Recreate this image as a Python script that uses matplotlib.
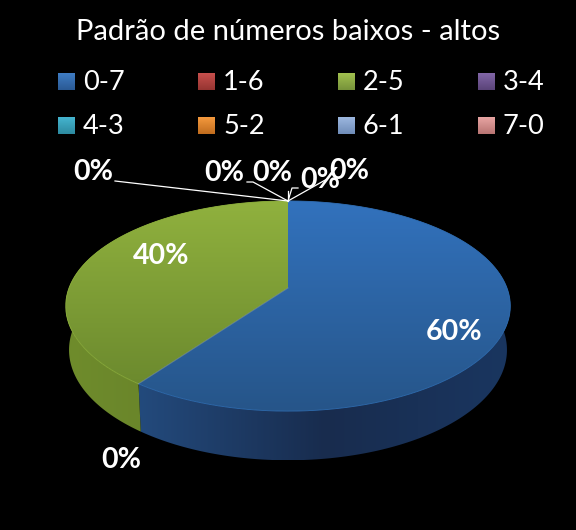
import numpy as np
import matplotlib
matplotlib.use("Agg")
import matplotlib.pyplot as plt
from matplotlib.colors import LinearSegmentedColormap
from matplotlib.patches import Polygon

plt.rcParams["font.family"] = ["Lato", "DejaVu Sans"]

TITLE = "Padrão de números baixos - altos"
categories = ["0-7", "1-6", "2-5", "3-4", "4-3", "5-2", "6-1", "7-0"]
values = [60, 0, 40, 0, 0, 0, 0, 0]
legend_top = ["#3f7cc4", "#c8504d", "#a2c14f", "#8266a8", "#45b5d0", "#f59a3e", "#9db8e0", "#e8a5a3"]
legend_low = ["#2a5a94", "#953431", "#76923a", "#5a4478", "#2d8aa0", "#c06c1e", "#6f8cb8", "#b87472"]

# couleurs du dessus et du flanc de chaque part
top_colors = {0: ("#3272bd", "#265589"), 2: ("#90b13e", "#6c8a2e")}
side_colors = {0: ("#234a7c", "#182c4e", "#1a3660"), 2: ("#6f8c2c", "#68832a", "#5e7a26")}
rim_colors = {0: "#2f6cb0", 2: "#8cae3c"}

# place des etiquettes, dans l'ordre des categories
label_xy = [(454, 332), (121, 460), (161, 256), (93, 172), (224, 173), (272, 173), (320, 180), (349, 171)]
leaders = [
    [(115, 181), (288, 201)],
    [(247, 182), (253, 182), (288, 201)],
    [(298, 188), (292, 188), (288, 201)],
    [(288, 191), (288, 201)],
    [(327, 179), (288, 201)],
]

CX, CY = 288, 288
RX, RY, K = 219, 102, 0.1716
DEPTH = 43


def rim(theta, bottom=False):
    """Cercle vu en perspective : theta en radians, sens horaire depuis le haut."""
    u, v = np.sin(theta), -np.cos(theta)
    d = 1 - K * v
    x, y = RX * u / d, RY * v / d
    if bottom:
        return CX + 0.985 * x, CY + 1.05 * y + DEPTH
    return CX + x, CY + y


def gradient(ax, patch, stops, vertical=True):
    xy = patch.get_xy()
    x0, x1, y0, y1 = xy[:, 0].min(), xy[:, 0].max(), xy[:, 1].min(), xy[:, 1].max()
    cmap = LinearSegmentedColormap.from_list("g", stops)
    ramp = np.linspace(0, 1, 256)
    ramp = ramp[:, None] if vertical else ramp[None, :]
    im = ax.imshow(ramp, cmap=cmap, extent=(x0, x1, y1, y0), aspect="auto", zorder=patch.get_zorder())
    ax.add_patch(patch)
    patch.set_visible(False)
    im.set_clip_path(patch)


fig = plt.figure(figsize=(5.76, 5.30), dpi=100, facecolor="black")
ax = fig.add_axes([0, 0, 1, 1])
ax.set_facecolor("black")

ax.text(288, 32, TITLE, color="white", fontsize=21, ha="center", va="center")

# legende (4 colonnes, remplie par lignes)
for i, name in enumerate(categories):
    col, row = i % 4, i // 4
    x, y = 58 + 140 * col, 73 + 44 * row
    box = Polygon([(x, y), (x + 17, y), (x + 17, y + 17), (x, y + 17)], zorder=3)
    gradient(ax, box, [legend_top[i], legend_low[i]])
    ax.text(x + 25, y + 9, name, color="white", fontsize=19.5, ha="left", va="center")

# parts du camembert
total = sum(values)
start = 0.0
for i, val in enumerate(values):
    stop = start + val / total * 2 * np.pi
    if val > 0:
        th = np.linspace(start, stop, 200)
        tx, ty = rim(th)
        bx, by = rim(th, bottom=True)
        side = Polygon(np.r_[np.c_[tx, ty], np.c_[bx, by][::-1]], zorder=2)
        gradient(ax, side, list(side_colors[i]), vertical=False)
        top = Polygon(np.r_[[(CX, CY)], np.c_[tx, ty]], zorder=4)
        gradient(ax, top, list(top_colors[i]))
        ax.plot(tx, ty, color=rim_colors[i], lw=0.6, zorder=5)
    start = stop

# filet clair entre les deux parts
a = values[0] / total * 2 * np.pi
ex, ey = rim(a)
ax.plot([CX, ex], [CY, ey], color="#7f9fc0", lw=0.7, alpha=0.6, zorder=5)

for pts in leaders:
    xs, ys = zip(*pts)
    ax.plot(xs, ys, color="white", lw=0.9, zorder=6)

for val, (x, y) in zip(values, label_xy):
    ax.text(x, y, f"{val / total:.0%}", color="white", fontsize=20.5, fontweight="bold",
            ha="center", va="center", zorder=7)

ax.set_xlim(0, 576)
ax.set_ylim(530, 0)
ax.axis("off")
fig.savefig("out.png", dpi=100, facecolor="black")
